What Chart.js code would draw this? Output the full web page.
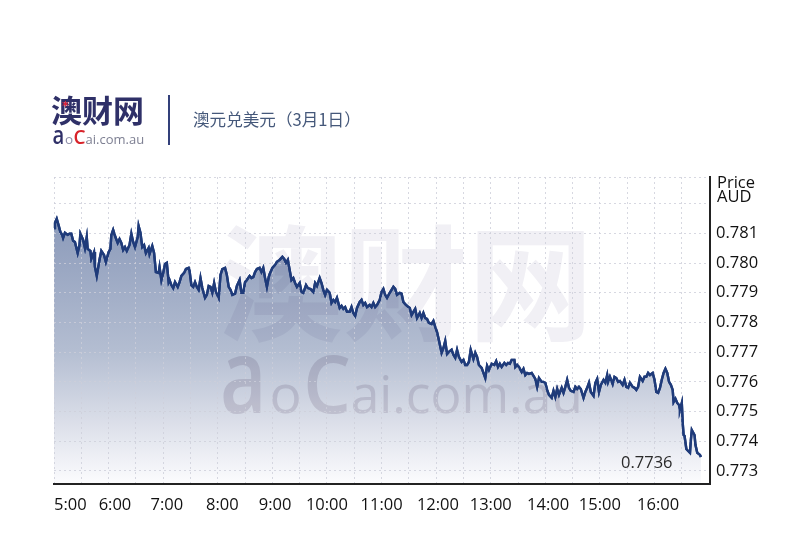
<!DOCTYPE html>
<html><head><meta charset="utf-8">
<style>html,body{margin:0;padding:0;background:#fff}canvas{display:block}</style>
<script src="https://cdn.jsdelivr.net/npm/chart.js@4"></script></head>
<body><canvas id="c" width="800" height="550"></canvas>
<script>
// minutes after 5:00
const sampleMinutes=[0,1,3,5,7,9,10,12,15,17,19,21,23,26,28,29,32,34,36,37,40,41,44,45,47,50,52,55,57,60,62,63,65,67,70,72,74,76,78,80,83,85,87,89,92,93,95,97,99,101,104,105,108,110,112,115,116,118,120,122,124,126,127,129,131,133,136,138,140,143,145,148,149,151,153,155,157,159,161,163,166,168,170,172,174,176,178,181,183,185,188,190,192,194,196,199,201,204,206,208,210,212,215,217,219,221,223,226,228,230,232,234,236,237,240,243,245,248,251,253,255,257,259,261,263,265,267,270,272,274,277,279,282,285,287,289,292,294,296,298,300,303,305,307,309,311,314,316,318,320,322,325,327,329,331,333,336,338,340,342,344,347,349,351,353,355,358,360,362,364,366,369,371,373,375,377,380,382,384,386,388,391,393,395,397,399,402,404,406,408,410,412,415,417,419,421,423,426,428,430,432,434,437,439,441,443,445,448,450,452,454,456,458,461,463,465,467,470,472,474,476,478,481,484,486,488,490,492,495,497,499,501,503,506,507,509,511,514,516,518,520,522,525,527,529,531,533,536,538,540,542,544,547,549,551,553,555,558,560,562,564,566,568,571,573,575,577,579,582,584,586,588,590,593,595,597,599,601,604,606,608,609,611,614,616,618,620,622,625,627,629,631,633,636,638,640,642,644,647,649,651,653,655,658,660,662,664,666,668,670,672,674,676,678,680,681,683,685,687,688,690,691,692,693,695,697,699,700,701,704,705,707,710,711];
const priceValues=[.78118,.78135,.78149,.78128,.78105,.78095,.78085,.78102,.78095,.78099,.78099,.78075,.78071,.78034,.78061,.78099,.78078,.78051,.78088,.78048,.78041,.78014,.78037,.77987,.77957,.78011,.78041,.78027,.78004,.78037,.78048,.78095,.78112,.78092,.78068,.78081,.78068,.78044,.78054,.78041,.78061,.78099,.78071,.78054,.78088,.78125,.78102,.78054,.78061,.78034,.78051,.78031,.78058,.78034,.77970,.77967,.77987,.77943,.77967,.77997,.78001,.77936,.77943,.77926,.77916,.77936,.77920,.77936,.77957,.77967,.77980,.77984,.77974,.77926,.77920,.77936,.77920,.77910,.77950,.77916,.77883,.77893,.77923,.77920,.77900,.77933,.77903,.77883,.77960,.77980,.77984,.77960,.77920,.77910,.77893,.77897,.77923,.77943,.77900,.77900,.77936,.77943,.77957,.77950,.77953,.77970,.77980,.77984,.77970,.77984,.77950,.77920,.77953,.77963,.77984,.77994,.78004,.78011,.78021,.78014,.78001,.78011,.77977,.77943,.77950,.77933,.77920,.77933,.77903,.77900,.77926,.77916,.77913,.77903,.77933,.77923,.77950,.77933,.77910,.77893,.77910,.77900,.77866,.77876,.77869,.77883,.77849,.77856,.77846,.77852,.77836,.77836,.77852,.77832,.77822,.77849,.77869,.77876,.77859,.77866,.77852,.77859,.77852,.77866,.77852,.77859,.77876,.77903,.77913,.77893,.77883,.77900,.77910,.77920,.77913,.77893,.77900,.77897,.77869,.77862,.77856,.77849,.77825,.77836,.77846,.77815,.77832,.77815,.77832,.77815,.77812,.77799,.77795,.77805,.77785,.77768,.77741,.77698,.77714,.77738,.77694,.77701,.77708,.77691,.77681,.77708,.77684,.77667,.77674,.77657,.77657,.77667,.77708,.77677,.77698,.77684,.77657,.77647,.77630,.77613,.77654,.77640,.77661,.77657,.77670,.77650,.77661,.77650,.77664,.77657,.77664,.77661,.77674,.77674,.77650,.77657,.77650,.77633,.77644,.77623,.77630,.77627,.77630,.77620,.77610,.77583,.77613,.77600,.77600,.77597,.77573,.77556,.77546,.77570,.77549,.77576,.77556,.77580,.77563,.77583,.77607,.77580,.77570,.77566,.77583,.77576,.77583,.77576,.77546,.77566,.77580,.77597,.77566,.77553,.77597,.77610,.77566,.77590,.77607,.77597,.77623,.77600,.77617,.77593,.77617,.77613,.77600,.77603,.77590,.77607,.77583,.77580,.77597,.77583,.77580,.77573,.77583,.77617,.77603,.77617,.77617,.77630,.77623,.77630,.77607,.77566,.77563,.77580,.77607,.77630,.77644,.77630,.77600,.77590,.77573,.77532,.77543,.77529,.77522,.77506,.77529,.77462,.77421,.77418,.77374,.77367,.77361,.77405,.77438,.77421,.77388,.77361,.77354,.77347];
const hourLabels=['5:00','6:00','7:00','8:00','9:00','10:00','11:00','12:00','13:00','14:00','15:00','16:00'];
const hourLabelMinutes=[18,67,124,185,243,300,360,422,480,543,600,664];
const gridMinutes=[0,30,60,90,120,150,180,210,240,270,300,330,360,390,420,450,480,510,540,570,600,630,660,690];
const priceTicks=[0.773,0.774,0.775,0.776,0.777,0.778,0.779,0.78,0.781];
const gridOnlyPrices=[0.782,0.7829];
const lastPriceLabel='0.7736';
const titleText='澳元兑美元（3月1日）';
const axisFont='"Open Sans"';
const cjk='"Noto Sans CJK SC"';

function wordmark(ctx,x,base,k,cols){
  const piece=(t,px,size,col,sx,w)=>{ctx.save();ctx.translate(x+px*k,base);ctx.scale(sx*k,k);
    ctx.fillStyle=col;ctx.font=w+' '+size+'px "Open Sans"';ctx.textAlign='left';ctx.textBaseline='alphabetic';ctx.fillText(t,0,0);ctx.restore();};
  piece('a',-.5,26,cols[0],.78,600);
  piece('o',12,13.5,cols[1],1,400);
  piece('C',20.5,20,cols[2],.95,600);
  piece('ai.com.au',32.5,13,cols[3],1,400);
}
const decor={id:'decor',
  afterDatasetsDraw(c){const x=c.ctx;x.save();x.globalCompositeOperation='multiply';
    x.fillStyle='#f1f0f5';x.font='bold 125px '+cjk;x.textAlign='left';x.textBaseline='alphabetic';
    x.fillText('澳财网',218,331);
    wordmark(x,222,413,3.96,['#e4e0e6','#e4e0e6','#e4e0e6','#e4e0e6']);
    x.restore();},
  afterDraw(c){const x=c.ctx;
    c.getDatasetMeta(0).dataset.draw(x,c.chartArea);
    x.save();
    x.textBaseline='alphabetic';x.textAlign='left';
    x.fillStyle='#2f3068';x.font='bold 31px '+cjk;x.fillText('澳财网',51,122);
    x.fillStyle='#e0243a';x.font='bold 13px "DejaVu Sans"';x.fillText('*',62,110);
    wordmark(x,53,144,1,['#2f3068','#8c8ca8','#d8232a','#7d7f92']);
    x.fillStyle='#33407a';x.fillRect(168,95,2,50);
    x.fillStyle='#45587a';x.font='16.6px '+cjk;x.fillText(titleText,193,126);
    x.fillStyle='#111';x.font='16.5px '+axisFont;x.fillText('Price',717,188);x.fillText('AUD',717,202);
    x.fillStyle='#2a2a2a';x.fillText(lastPriceLabel,621,468);
    x.restore();}
};
new Chart(document.getElementById('c'),{
  type:'line',
  data:{datasets:[{data:sampleMinutes.map((m,i)=>({x:m,y:priceValues[i]})),
    borderColor:'#1f3b7a',borderWidth:2.4,pointRadius:0,tension:0,fill:'start',
    backgroundColor(ctx){const g=ctx.chart.ctx.createLinearGradient(0,215,0,484);
      g.addColorStop(0,'#8a99b9');g.addColorStop(.5,'#b3bdd1');g.addColorStop(.75,'#d8dce7');g.addColorStop(1,'#fcfcfe');return g;}}]},
  options:{responsive:false,animation:false,
    layout:{padding:{left:54,top:177,right:0,bottom:0}},
    plugins:{legend:{display:false},tooltip:{enabled:false},title:{display:false}},
    scales:{
      x:{type:'linear',position:'bottom',min:0,max:721,
        afterBuildTicks(s){s.ticks=gridMinutes.map(v=>({value:v}));},
        afterFit(s){s.height=0;},
        ticks:{display:false},
        grid:{color:'rgba(205,206,218,.8)',lineWidth:1,drawTicks:false,z:1},
        border:{display:true,color:'#222',width:2,dash:[2,3],z:2}
      },
      xHours:{type:'linear',axis:'x',position:'bottom',min:0,max:721,
        afterBuildTicks(s){s.ticks=hourLabelMinutes.map(v=>({value:v}));},
        afterFit(s){s.height=66;},
        grid:{display:false},border:{display:false},
        ticks:{autoSkip:false,maxRotation:0,padding:3,color:'#111',font:{family:'Open Sans',size:16.5},
          callback:(v,i)=>hourLabels[i]}
      },
      y:{type:'linear',position:'right',min:0.77256,max:0.7829,
        afterBuildTicks(s){s.ticks=priceTicks.concat(gridOnlyPrices).map(v=>({value:v}));},
        afterFit(s){s.width=90;},
        grid:{color:'rgba(205,206,218,.8)',lineWidth:1,drawTicks:false,z:1},
        border:{display:true,color:'#222',width:2,dash:[2,3],z:2},
        ticks:{padding:6,color:'#111',font:{family:'Open Sans',size:16.5},autoSkip:false,
          callback:v=>priceTicks.includes(v)?v.toFixed(3):''}
      }
    }},
  plugins:[decor]
});
</script></body></html>
